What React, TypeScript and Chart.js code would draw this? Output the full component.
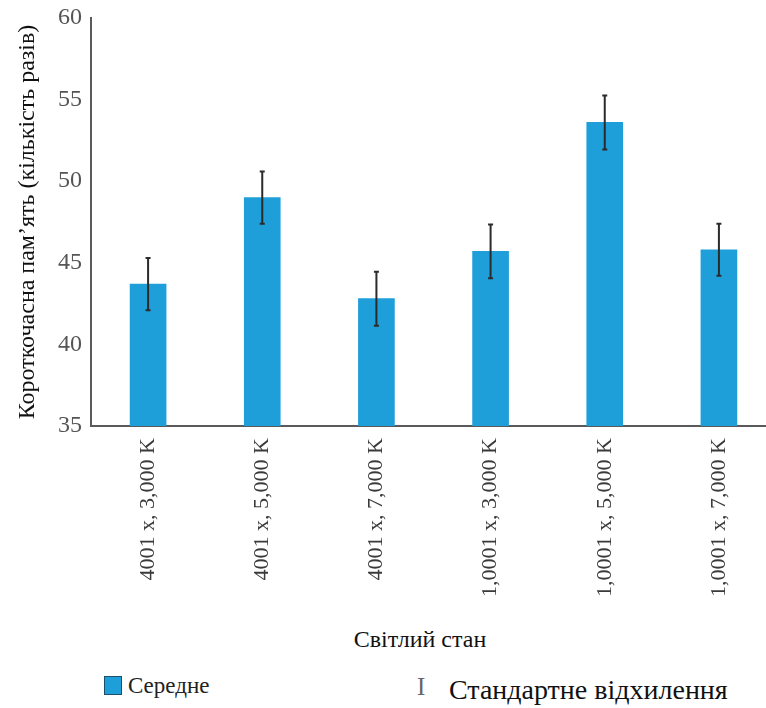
import React, { useEffect, useRef } from "react";
import { Chart, registerables } from "chart.js";

Chart.register(...registerables);

const categories = [
  "4001 x, 3,000 K",
  "4001 x, 5,000 K",
  "4001 x, 7,000 K",
  "1,0001 x, 3,000 K",
  "1,0001 x, 5,000 K",
  "1,0001 x, 7,000 K",
];
const means = [43.7, 49.0, 42.8, 45.7, 53.6, 45.8];
const stdDevs = [1.6, 1.6, 1.65, 1.65, 1.65, 1.6];
const yTicks = [35, 40, 45, 50, 55, 60];

const yTitle = "Короткочасна пам’ять (кількість разів)";
const xTitle = "Світлий стан";
const legendMean = "Середне";
const legendSd = "Стандартне відхилення";

const BAR_COLOR = "#1f9fda";
const SERIF = "'Liberation Serif', 'DejaVu Serif', serif";
const CANVAS_W = 790;
const CANVAS_H = 620;

const errorBarPlugin = {
  id: "errorBars",
  afterDatasetsDraw(chart: any) {
    const meta = chart.getDatasetMeta(0);
    const yScale = chart.scales.y;
    const ctx = chart.ctx;
    ctx.save();
    ctx.strokeStyle = "#2b2b2b";
    ctx.lineWidth = 2;
    meta.data.forEach((el: any, i: number) => {
      const x = el.x;
      const top = yScale.getPixelForValue(means[i] + stdDevs[i]);
      const bot = yScale.getPixelForValue(means[i] - stdDevs[i]);
      ctx.beginPath();
      ctx.moveTo(x, top);
      ctx.lineTo(x, bot);
      ctx.moveTo(x - 2.5, top);
      ctx.lineTo(x + 2.5, top);
      ctx.moveTo(x - 2.5, bot);
      ctx.lineTo(x + 2.5, bot);
      ctx.stroke();
    });
    ctx.restore();
  },
};

export default function App() {
  const ref = useRef<HTMLCanvasElement | null>(null);
  useEffect(() => {
    if (!ref.current) return;
    const chart = new Chart(ref.current, {
      type: "bar",
      data: {
        labels: categories,
        datasets: [
          {
            label: legendMean,
            data: means,
            backgroundColor: BAR_COLOR,
            barThickness: 36,
          },
        ],
      },
      options: {
        animation: false,
        responsive: false,
        layout: { padding: { top: 18, right: 14, bottom: 0, left: 0 } },
        plugins: { legend: { display: false }, tooltip: { enabled: false } },
        scales: {
          x: {
            grid: { display: false, drawTicks: false },
            border: { display: true, color: "#5a5a5a", width: 2 },
            ticks: {
              minRotation: 90,
              maxRotation: 90,
              padding: 12,
              color: "#3a3a3a",
              font: { family: SERIF, size: 22 },
            },
            afterFit(scale: any) {
              scale.height = CANVAS_H - 426;
              scale.paddingLeft = 0;
              scale.paddingRight = 0;
            },
          },
          y: {
            min: 35,
            max: 60,
            afterBuildTicks(scale: any) {
              scale.ticks = yTicks.map((v) => ({ value: v }));
            },
            grid: { display: false, drawTicks: false },
            border: { display: true, color: "#5a5a5a", width: 2 },
            ticks: {
              padding: 9,
              color: "#555555",
              font: { family: SERIF, size: 24 },
            },
            title: {
              display: true,
              text: yTitle,
              color: "#111111",
              font: { family: SERIF, size: 24 },
              padding: { top: 13, bottom: 0 },
            },
            afterFit(scale: any) {
              scale.width = 91;
              scale.paddingTop = 0;
              scale.paddingBottom = 0;
            },
          },
        },
      },
      plugins: [errorBarPlugin],
    });
    return () => chart.destroy();
  }, []);

  return (
    <div
      style={{
        position: "absolute",
        left: 0,
        top: 0,
        width: 766,
        height: 708,
        overflow: "hidden",
        background: "#ffffff",
        fontFamily: SERIF,
      }}
    >
      <canvas
        ref={ref}
        width={CANVAS_W}
        height={CANVAS_H}
        style={{ position: "absolute", left: 0, top: 0, width: CANVAS_W, height: CANVAS_H }}
      />
      <div
        style={{
          position: "absolute",
          left: 320,
          width: 200,
          top: 625,
          textAlign: "center",
          fontSize: 24,
          lineHeight: "28px",
          color: "#111",
        }}
      >
        {xTitle}
      </div>
      <div
        style={{
          position: "absolute",
          left: 104,
          top: 676,
          width: 16,
          height: 17,
          background: BAR_COLOR,
          border: "1px solid #1b4f6e",
        }}
      />
      <div
        style={{
          position: "absolute",
          left: 128,
          top: 672,
          fontSize: 23,
          lineHeight: "28px",
          color: "#222",
        }}
      >
        {legendMean}
      </div>
      <div
        style={{
          position: "absolute",
          left: 417,
          top: 673,
          fontSize: 25,
          lineHeight: "28px",
          color: "#666",
        }}
      >
        I
      </div>
      <div
        style={{
          position: "absolute",
          left: 449,
          top: 674,
          fontSize: 28,
          lineHeight: "32px",
          color: "#111",
        }}
      >
        {legendSd}
      </div>
    </div>
  );
}
